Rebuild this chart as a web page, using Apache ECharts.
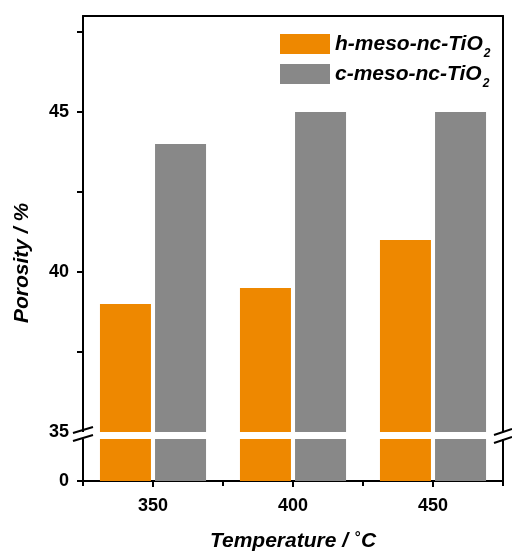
<!DOCTYPE html>
<html><head><meta charset="utf-8">
<script src="https://cdn.jsdelivr.net/npm/echarts@6/dist/echarts.min.js"></script>
<style>html,body{margin:0;padding:0;background:#fff}#c{width:512px;height:553px}</style>
</head><body><div id="c"></div>
<script>
var categories = ['350', '400', '450'];
var hMeso = [39, 39.5, 41];
var cMeso = [44, 45, 45];
var seriesNames = ['h-meso-nc-TiO2', 'c-meso-nc-TiO2'];
var upperTicks = [37.5, 40, 42.5, 45, 47.5];
var upperLabels = [35, 40, 45];
var lowerLabels = [0];

var FONT = 'Liberation Sans, Arial, sans-serif';
var ORANGE = '#EE8800', GREY = '#888888';
var chart = echarts.init(document.getElementById('c'), null, {renderer: 'canvas'});
var axisLine = {show: true, lineStyle: {color: '#000', width: 2}};
var labelStyle = {color: '#000', fontFamily: FONT, fontWeight: 'bold', fontSize: 18};

function barSeries(name, data, idx, color) {
  return {
    type: 'bar', name: name, data: data, xAxisIndex: idx, yAxisIndex: idx,
    barWidth: 51, barGap: '8%', clip: true,
    itemStyle: {color: color}, emphasis: {disabled: true}, animation: false
  };
}

chart.setOption({
  animation: false,
  grid: [
    {left: 83, right: 9, top: 16, height: 416},
    {left: 83, right: 9, top: 439, height: 42}
  ],
  legend: {
    orient: 'vertical', left: 275, top: 27, itemWidth: 50, itemHeight: 20, itemGap: 2,
    icon: 'rect', selectedMode: false,
    data: seriesNames,
    formatter: function (n) { return '{a|' + n.slice(0, -1) + '}{s|' + n.slice(-1) + '}'; },
    textStyle: {
      rich: {
        a: {fontFamily: FONT, fontWeight: 'bold', fontStyle: 'italic', fontSize: 21, color: '#000',
            lineHeight: 24, padding: [2, 0, 0, 0], verticalAlign: 'top'},
        s: {fontFamily: FONT, fontWeight: 'bold', fontStyle: 'italic', fontSize: 12, color: '#000',
            lineHeight: 12, padding: [16, 0, 0, 1], verticalAlign: 'top'}
      }
    }
  },
  xAxis: [
    {type: 'category', gridIndex: 0, data: categories, position: 'top',
     axisLine: axisLine, axisTick: {show: false}, axisLabel: {show: false}, splitLine: {show: false}},
    {type: 'category', gridIndex: 1, data: categories, position: 'bottom',
     axisLine: axisLine,
     axisTick: {show: true, alignWithLabel: true, length: 6, lineStyle: {color: '#000', width: 2}},
     axisLabel: Object.assign({margin: 16}, labelStyle),
     name: 'Temperature / {sup|°}C', nameLocation: 'middle', nameGap: 49,
     nameTextStyle: {fontFamily: FONT, fontWeight: 'bold', fontStyle: 'italic', fontSize: 21, color: '#000',
       rich: {sup: {fontFamily: FONT, fontWeight: 'bold', fontStyle: 'italic', fontSize: 15, color: '#000', verticalAlign: 'top', padding: [0, 1, 8, 0]}}},
     splitLine: {show: false}},
    {type: 'category', gridIndex: 1, data: categories, position: 'bottom',
     axisLine: {show: false},
     axisTick: {show: true, interval: 0, length: 5, lineStyle: {color: '#000', width: 2}},
     axisLabel: {show: false}, splitLine: {show: false}}
  ],
  yAxis: [
    {type: 'value', gridIndex: 0, min: 35, max: 48, position: 'left',
     axisLine: axisLine,
     axisTick: {show: true, customValues: upperTicks, length: 6, lineStyle: {color: '#000', width: 2}},
     axisLabel: Object.assign({customValues: upperLabels, margin: 14}, labelStyle),
     splitLine: {show: false}},
    {type: 'value', gridIndex: 1, min: 0, max: 35, position: 'left',
     axisLine: axisLine,
     axisTick: {show: true, customValues: lowerLabels, length: 6, lineStyle: {color: '#000', width: 2}},
     axisLabel: Object.assign({customValues: lowerLabels, margin: 14}, labelStyle),
     splitLine: {show: false}},
    {type: 'value', gridIndex: 0, min: 35, max: 48, position: 'right',
     axisLine: axisLine, axisTick: {show: false}, axisLabel: {show: false}, splitLine: {show: false}},
    {type: 'value', gridIndex: 1, min: 0, max: 35, position: 'right',
     axisLine: axisLine, axisTick: {show: false}, axisLabel: {show: false}, splitLine: {show: false}}
  ],
  series: [
    barSeries(seriesNames[0], hMeso, 0, ORANGE),
    barSeries(seriesNames[1], cMeso, 0, GREY),
    Object.assign(barSeries(seriesNames[0], hMeso, 1, ORANGE), {xAxisIndex: 1, yAxisIndex: 1}),
    Object.assign(barSeries(seriesNames[1], cMeso, 1, GREY), {xAxisIndex: 1, yAxisIndex: 1})
  ],
  graphic: [
    {type: 'text', x: 22, y: 263, rotation: Math.PI / 2,
     style: {text: 'Porosity / %', fontFamily: FONT, fontWeight: 'bold', fontStyle: 'italic', fontSize: 21,
       fill: '#000', align: 'center', verticalAlign: 'middle'}},
    {type: 'rect', shape: {x: 78, y: 432, width: 10, height: 7}, style: {fill: '#fff'}, z: 50},
    {type: 'rect', shape: {x: 498, y: 432, width: 10, height: 7}, style: {fill: '#fff'}, z: 50},
    {type: 'line', shape: {x1: 73, y1: 433, x2: 93, y2: 427}, style: {stroke: '#000', lineWidth: 2}, z: 51},
    {type: 'line', shape: {x1: 73, y1: 441, x2: 93, y2: 435}, style: {stroke: '#000', lineWidth: 2}, z: 51},
    {type: 'line', shape: {x1: 494, y1: 435, x2: 512, y2: 429}, style: {stroke: '#000', lineWidth: 2}, z: 51},
    {type: 'line', shape: {x1: 494, y1: 443, x2: 512, y2: 437}, style: {stroke: '#000', lineWidth: 2}, z: 51}
  ]
});
</script></body></html>
